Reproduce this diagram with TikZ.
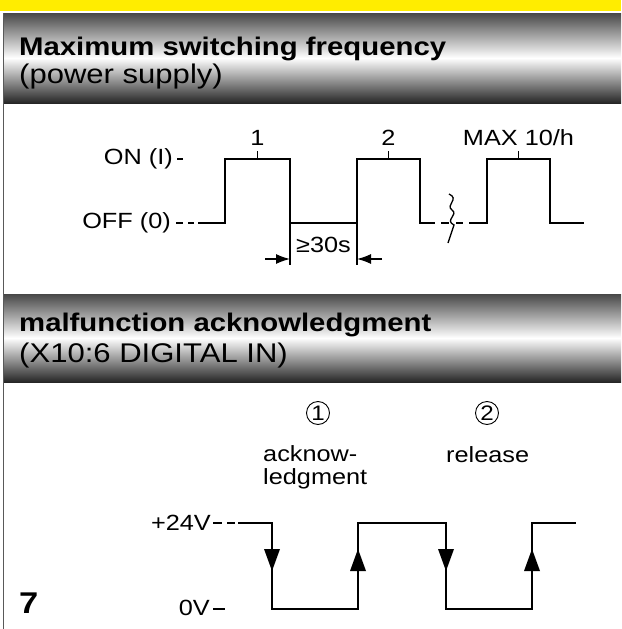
\documentclass[tikz,border=0pt]{standalone}
\usepackage{fontspec}
\setmainfont[FakeStretch=1.15]{Liberation Sans}
\usetikzlibrary{arrows.meta,positioning,calc}
\definecolor{bandyellow}{RGB}{255,237,0}
\begin{document}
\begin{tikzpicture}[x=1pt,y=-1pt,>=Latex,
head/.style={anchor=base west,inner sep=0pt,font=\fontsize{25.5}{28}\selectfont\bfseries},
subhead/.style={anchor=base west,inner sep=0pt,font=\fontsize{27}{28}\selectfont},
lbl/.style={inner sep=0pt,font=\fontsize{22}{23}\selectfont},
numcircle/.style={circle,draw,line width=0.9pt,minimum size=23pt,inner sep=0pt,font=\fontsize{21}{21}\selectfont},
wave/.style={line width=2.8pt},
tick/.style={line width=1.6pt},
dim/.style={line width=1.3pt},
headband/.style={top color=black!72,bottom color=black!85,middle color=white}]
\useasboundingbox (0,0) rectangle (621,629);
\fill[bandyellow] (0,0) rectangle (621,11);
\shade[headband] (3,13) rectangle (621,103);
\shade[headband] (3,294) rectangle (621,382);
\draw[black!65,line width=1.6pt] (3.5,13) -- (3.5,629);
\node[head] (title1) at (19,55) {Maximum switching frequency};
\node[subhead] (sub1) at (19,83) {(power supply)};
\node[head] (title2) at (19,331) {malfunction acknowledgment};
\node[subhead] (sub2) at (19,362) {(X10:6 DIGITAL IN)};
\node[lbl,anchor=east] (on) at (173,159) {ON (I)};
\node[lbl,anchor=east] (off) at (171,223) {OFF (0)};
\draw[wave] (177,159) -- (183,159);
\draw[wave] (176,223) -- (183,223) (188,223) -- (194,223);
\draw[wave] (198,223) -- (225,223) -- (225,159) -- (290,159) -- (290,223) -- (357,223) -- (357,159) -- (420,159) -- (420,223) -- (435,223);
\draw[wave] (441,223) -- (449,223) (456,223) -- (463,223);
\draw[wave] (469,223) -- (487,223) -- (487,159) -- (550,159) -- (550,223) -- (584,223);
\draw[tick] (257.5,159) -- (257.5,151);
\draw[tick] (388.5,159) -- (388.5,151);
\draw[tick] (518.5,159) -- (518.5,151);
\node[lbl] (one) at (257.5,138) {1};
\node[lbl] (two) at (388.5,138) {2};
\node[lbl] (maxrate) at (518.5,138) {MAX 10/h};
\draw[line width=1.3pt] (449,194) .. controls (460,199) and (445,205) .. (452,210) .. controls (459,215) and (444,220) .. (454,225) -- (448,243);
\draw[dim] (290,223) -- (290,265);
\draw[dim] (357,223) -- (357,265);
\draw[dim,-{Latex[length=14pt,width=10pt]}] (265,259) -- (290,259);
\draw[dim,-{Latex[length=14pt,width=10pt]}] (382,259) -- (357,259);
\node[lbl] (pause) at (323.5,245) {≥30s};
\node[lbl,anchor=east] (high) at (211,523) {+24V};
\node[lbl,anchor=east] (low) at (210,608) {0V};
\draw[wave] (213,523) -- (222,523) (227,523) -- (235,523);
\draw[wave] (213,609) -- (225,609);
\draw[wave] (238,523) -- (272,523) -- (272,609) -- (358,609) -- (358,523) -- (446,523) -- (446,609) -- (532,609) -- (532,523) -- (576,523);
\fill (264,549) -- (280,549) -- (272,571) -- cycle;
\fill (350,571) -- (366,571) -- (358,549) -- cycle;
\fill (438,549) -- (454,549) -- (446,571) -- cycle;
\fill (524,571) -- (540,571) -- (532,549) -- cycle;
\node[numcircle] (ack) at (318,413) {1};
\node[numcircle] (rel) at (487,413) {2};
\node[lbl,align=left,anchor=west] (acktext) at (263,467) {acknow-\\ledgment};
\node[lbl,anchor=west] (reltext) at (446,455) {release};
\node[anchor=base west,inner sep=0pt,font=\fontsize{30}{30}\selectfont\bfseries] (pagenum) at (19,613) {7};
\end{tikzpicture}
\end{document}
